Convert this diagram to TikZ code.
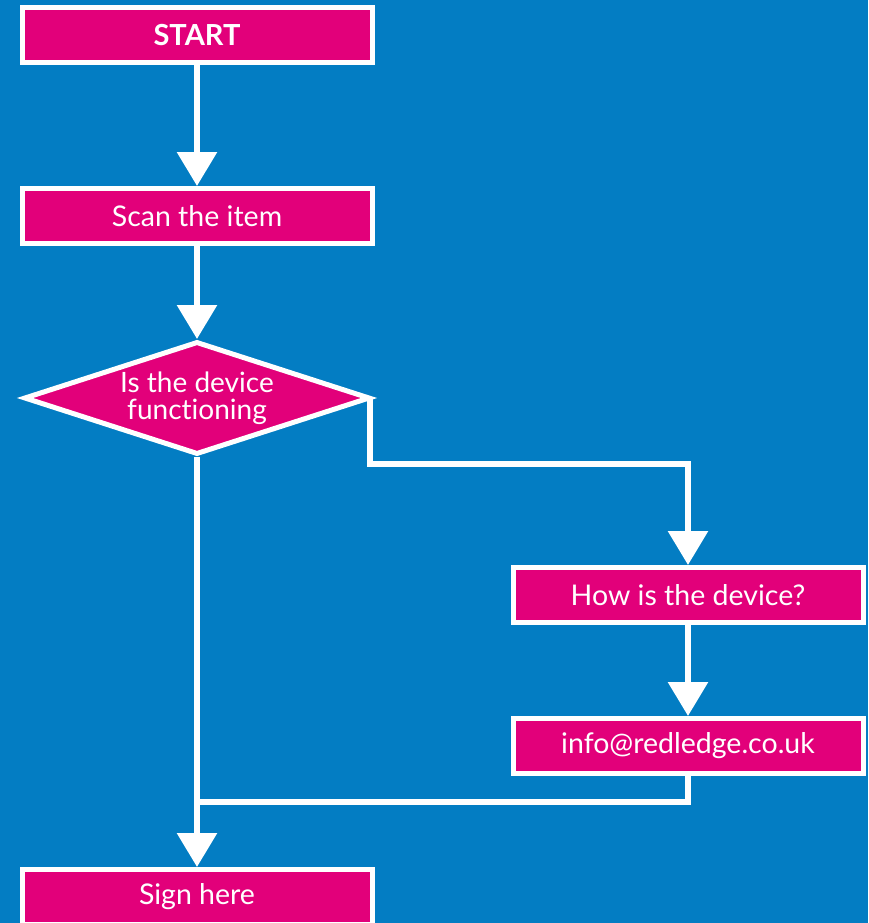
\documentclass[tikz,border=0pt]{standalone}
\usepackage{fontspec}
\setmainfont{Lato}[Ligatures=NoCommon]
\usetikzlibrary{arrows.meta,shapes.geometric}
\definecolor{bgblue}{RGB}{3,125,195}
\definecolor{boxmag}{RGB}{226,0,122}
\begin{document}
\begin{tikzpicture}[x=1pt,y=-1pt,
  box/.style={draw=white,fill=boxmag,line width=5pt,minimum width=350pt,minimum height=55pt,inner sep=0pt,text=white,font=\fontsize{28.5}{30}\selectfont},
  dec/.style={diamond,draw=white,fill=boxmag,line width=5pt,minimum width=346pt,minimum height=113pt,aspect=3,inner sep=0pt,text=white,align=center,font=\fontsize{28}{26.5}\selectfont},
  conn/.style={draw=white,line width=6pt},
  arr/.style={conn,-{Triangle[width=39pt,length=34pt]}}]
\useasboundingbox (0,0) rectangle (868,923);
\fill[bgblue] (0,0) rectangle (868,923);
\begin{scope}
\clip (0,0) rectangle (868,923);
\node[box,font=\bfseries\fontsize{29}{30}\selectfont] (start) at (197,35) {START};
\node[box] (scan) at (197,216) {Scan the item};
\node[dec] (dia) at (197,398) {Is the device\\functioning};
\node[box] (how) at (688,595) {How is the device?};
\node[box] (info) at (688,746) {info@redledge.co.uk};
\node[box] (sign) at (197,897) {Sign here};
\coordinate (t1) at (688,464);
\coordinate (j) at (197,802);
\draw[arr] (start) -- (scan);
\draw[arr] (scan) -- (dia);
\draw[arr] ([xshift=-3pt]dia.east) |- (t1) -- (how.north);
\draw[arr] (how) -- (info);
\draw[conn] (info.south) |- (j);
\draw[arr] (dia.south) -- (sign.north);
\end{scope}
\end{tikzpicture}
\end{document}
